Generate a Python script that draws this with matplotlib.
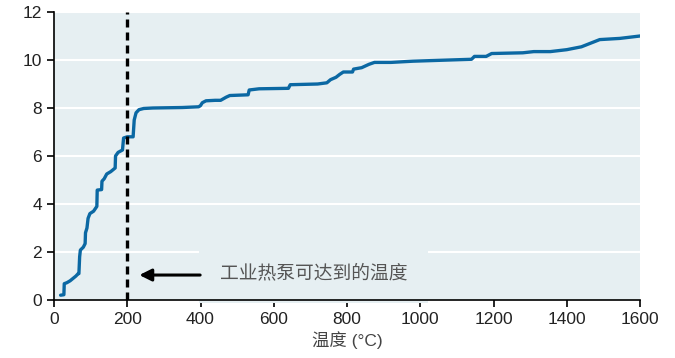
import matplotlib
matplotlib.use("Agg")
import matplotlib.pyplot as plt

plt.rcParams['font.family'] = ['Liberation Sans', 'Noto Sans CJK SC', 'DejaVu Sans']

temps = [18, 27, 28, 35, 44, 52, 60, 66, 68, 70, 72, 80, 85, 86, 90, 93, 98, 108, 117, 118,
         130, 131, 137, 144, 155, 167, 168, 175, 187, 190, 200, 216, 219, 224, 232, 245, 270,
         350, 395, 400, 405, 415, 440, 455, 470, 480, 530, 533, 560, 640, 645, 720, 745, 755,
         770, 780, 790, 815, 818, 840, 860, 875, 920, 980, 1080, 1140, 1148, 1180, 1195, 1280,
         1310, 1355, 1400, 1440, 1465, 1490, 1545, 1600]
values = [0.2, 0.22, 0.68, 0.72, 0.8, 0.9, 1.0, 1.1, 1.1, 1.8, 2.08, 2.2, 2.35, 2.8, 3.0, 3.4,
          3.6, 3.7, 3.9, 4.58, 4.6, 4.95, 5.05, 5.25, 5.35, 5.5, 6.0, 6.15, 6.25, 6.75, 6.8, 6.8,
          7.5, 7.8, 7.93, 7.98, 8.0, 8.02, 8.05, 8.1, 8.22, 8.3, 8.32, 8.32, 8.45, 8.52, 8.55,
          8.75, 8.8, 8.82, 8.97, 9.0, 9.05, 9.18, 9.28, 9.4, 9.5, 9.5, 9.62, 9.68, 9.82, 9.9,
          9.9, 9.95, 10.0, 10.03, 10.15, 10.15, 10.27, 10.3, 10.35, 10.35, 10.43, 10.55, 10.7,
          10.85, 10.9, 11.0]

heat_pump_limit = 200
annot_text = "工业热泵可达到的温度"
x_ticks = [0, 200, 400, 600, 800, 1000, 1200, 1400, 1600]
y_ticks = [0, 2, 4, 6, 8, 10, 12]

bg = '#E6EFF2'
fig = plt.figure(figsize=(6.75, 3.58), dpi=100)
ax = fig.add_axes([54/675, 58/358, 586/675, 288/358])
ax.set_facecolor(bg)

for yt in y_ticks[1:]:
    ax.axhline(yt, color='white', lw=1.5, zorder=1)

ax.plot(temps, values, color='#0B68A3', lw=2.4, zorder=3, solid_capstyle='round')
ax.axvline(heat_pump_limit, color='black', lw=2.4, ls=(0, (2.4, 1.5)), zorder=4)

ax.text(453, 1.1, annot_text, fontsize=13.5, color='#555555', va='center', ha='left',
        bbox=dict(boxstyle='square,pad=1.1', fc=bg, ec='none'), zorder=2)
ax.annotate('', xy=(233, 1.04), xytext=(399, 1.04),
            arrowprops=dict(arrowstyle='-|>', color='black', lw=2.2, mutation_scale=18,
                            shrinkA=0, shrinkB=0), zorder=5)

ax.set_xlim(0, 1600)
ax.set_ylim(0, 12)
ax.set_xticks(x_ticks)
ax.set_yticks(y_ticks)
ax.tick_params(axis='both', direction='out', length=5, width=1.2, labelsize=12.5,
               colors='black', labelcolor='#222222')
for s in ['top', 'right']:
    ax.spines[s].set_visible(False)
for s in ['left', 'bottom']:
    ax.spines[s].set_linewidth(1.2)
ax.set_xlabel('温度 (°C)', fontsize=12.5, color='#444444', labelpad=3)

fig.savefig('out.png', dpi=100)
